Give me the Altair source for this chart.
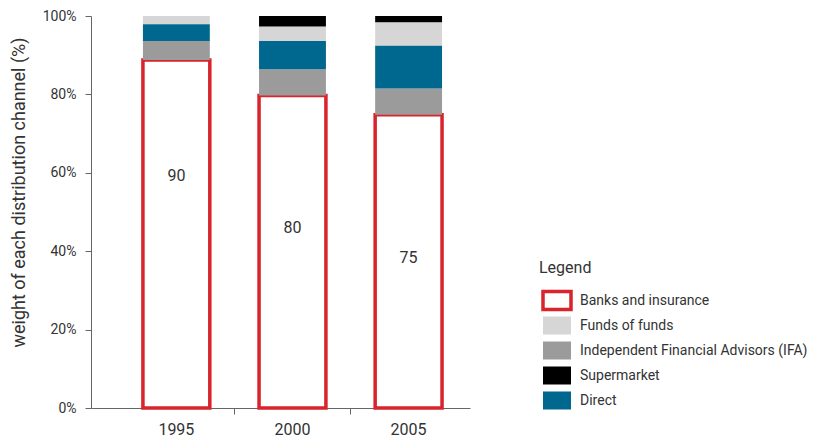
import altair as alt
import pandas as pd

years = ["1995", "2000", "2005"]
channels = ["Banks and insurance", "Funds of funds",
            "Independent Financial Advisors (IFA)", "Supermarket", "Direct"]
stack_order = ["Banks and insurance", "Independent Financial Advisors (IFA)",
               "Direct", "Funds of funds", "Supermarket"]

banks = [88.8, 79.7, 74.8]
funds = [2.1, 3.7, 6.0]
ifa = [4.8, 6.7, 6.7]
supermarket = [0.0, 2.7, 1.6]
direct = [4.3, 7.2, 10.9]

bank_labels = ["90", "80", "75"]
bank_label_pos = [59.2, 46.0, 38.3]

fill_colors = ["#ffffff", "#d6d6d6", "#9b9b9b", "#000000", "#00678f"]
stroke_colors = ["#d9232d", "transparent", "transparent", "transparent", "transparent"]

series = {
    "Banks and insurance": banks,
    "Funds of funds": funds,
    "Independent Financial Advisors (IFA)": ifa,
    "Supermarket": supermarket,
    "Direct": direct,
}
rows = []
for ch, vals in series.items():
    for y, v in zip(years, vals):
        rows.append({"year": y, "channel": ch, "value": v,
                     "order": stack_order.index(ch)})
df = pd.DataFrame(rows)
labels_df = pd.DataFrame({"year": years, "label": bank_labels, "pos": bank_label_pos})

FONT = "Roboto"
TXT = "#333333"
AX = "#666666"

xscale = alt.Scale(domain=years, paddingInner=0.424, paddingOuter=0.344, align=0.65)

bars = alt.Chart(df).mark_bar(strokeWidth=3.5).encode(
    x=alt.X("year:N", scale=xscale, sort=years,
            axis=alt.Axis(title=None, labelAngle=0, bandPosition=1.37, tickSize=6,
                          tickOpacity={"condition": {"test": "datum.value == '2005'", "value": 0},
                                       "value": 1},
                          labelFontSize=16, labelPadding=7, labelColor=TXT,
                          labelFont=FONT, domainColor=AX, tickColor=AX)),
    y=alt.Y("value:Q", stack="zero",
            scale=alt.Scale(domain=[0, 100], nice=False),
            axis=alt.Axis(title="weight of each distribution channel (%)",
                          values=[0, 20, 40, 60, 80, 100],
                          labelExpr="datum.value + '%'",
                          grid=False, tickSize=6, labelPadding=9,
                          labelFontSize=14, labelColor=TXT, labelFont=FONT,
                          titleFont=FONT, titleFontSize=18, titleFontWeight="normal",
                          titleColor=TXT, titlePadding=14, titleY=176,
                          domainColor=AX, tickColor=AX)),
    fill=alt.Fill("channel:N", scale=alt.Scale(domain=channels, range=fill_colors),
                  legend=alt.Legend(title="Legend")),
    stroke=alt.Stroke("channel:N", scale=alt.Scale(domain=channels, range=stroke_colors),
                      legend=alt.Legend(title="Legend")),
    order=alt.Order("order:Q", sort="ascending"),
)

texts = alt.Chart(labels_df).mark_text(fontSize=16, font=FONT, color=TXT).encode(
    x=alt.X("year:N", scale=xscale, sort=years),
    y=alt.Y("pos:Q"),
    text="label:N",
)

chart = alt.layer(bars, texts).properties(
    width=379, height=392,
    autosize=alt.AutoSizeParams(type="none"),
    padding={"left": 83, "top": 8, "right": 345, "bottom": 30},
).configure_view(stroke=None).configure_legend(
    orient="none", legendX=448, legendY=244,
    titleFont=FONT, titleFontSize=16, titleFontWeight="normal", titleColor=TXT,
    titlePadding=12,
    labelFont=FONT, labelFontSize=14, labelColor=TXT, labelOffset=5, labelLimit=400,
    symbolType="M-0.875,-0.5625H0.875V0.5625H-0.875Z", symbolSize=1024, symbolStrokeWidth=3.5,
    rowPadding=0, clipHeight=25,
)

chart.save("out.html", embed_options={"renderer": "svg", "actions": False})
